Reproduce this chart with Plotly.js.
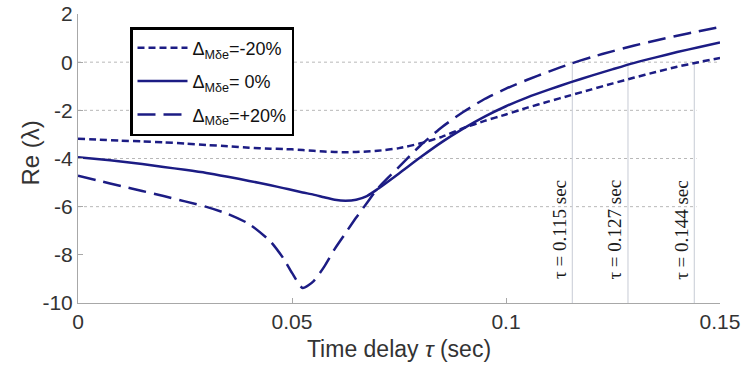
<!DOCTYPE html>
<html>
<head>
<meta charset="utf-8">
<script src="https://cdn.plot.ly/plotly-3.0.1.min.js"></script>
<style>html,body{margin:0;padding:0;background:#fff;}#chart{width:742px;height:370px;}</style>
</head>
<body>
<div id="chart"></div>
<script>
// time delay tau (sec)
const tau = [0, 0.005, 0.01, 0.015, 0.02, 0.025, 0.03, 0.035, 0.04, 0.045, 0.048, 0.05, 0.0525, 0.055, 0.0575, 0.06, 0.0625, 0.065, 0.0675, 0.07, 0.075, 0.08, 0.085, 0.09, 0.095, 0.1, 0.105, 0.11, 0.115, 0.12, 0.125, 0.13, 0.135, 0.14, 0.145, 0.15];

// Re(lambda) for Delta_Mde = -20%
const reMinus20 = [-3.18, -3.22, -3.26, -3.29, -3.33, -3.38, -3.44, -3.49, -3.55, -3.59, -3.61, -3.62, -3.65, -3.68, -3.71, -3.73, -3.74, -3.73, -3.71, -3.68, -3.57, -3.37, -3.1, -2.74, -2.44, -2.17, -1.89, -1.63, -1.38, -1.13, -0.88, -0.64, -0.41, -0.19, 0.0, 0.17];
// Re(lambda) for Delta_Mde = 0%
const reZero = [-3.95, -4.03, -4.12, -4.23, -4.35, -4.47, -4.6, -4.76, -4.93, -5.11, -5.23, -5.31, -5.41, -5.5, -5.61, -5.71, -5.75, -5.71, -5.56, -5.27, -4.62, -3.95, -3.32, -2.76, -2.26, -1.83, -1.46, -1.14, -0.84, -0.56, -0.29, -0.03, 0.2, 0.42, 0.62, 0.82];
// Re(lambda) for Delta_Mde = +20%
const rePlus20 = [-4.72, -4.93, -5.14, -5.35, -5.56, -5.78, -6.01, -6.3, -6.72, -7.45, -8.15, -8.75, -9.38, -9.1, -8.5, -7.75, -7.1, -6.45, -5.85, -5.25, -4.35, -3.46, -2.7, -2.07, -1.53, -1.1, -0.73, -0.39, -0.07, 0.21, 0.46, 0.69, 0.9, 1.1, 1.28, 1.46];

const seriesNames = ['\u0394<sub>M\u03b4e</sub>=-20%', '\u0394<sub>M\u03b4e</sub>= 0%', '\u0394<sub>M\u03b4e</sub>=+20%'];

// stability crossing markers
const crossX = [0.1155, 0.1285, 0.1440];
const crossLabels = ['\u03c4 = 0.115 sec', '\u03c4 = 0.127 sec', '\u03c4 = 0.144 sec'];
const gridVals = [0, -2, -4, -6];
const xTicks = [0, 0.05, 0.1, 0.15];
const xTickText = ['0', '0.05', '0.1', '0.15'];
const yTicks = [2, 0, -2, -4, -6, -8, -10];
const yTickText = ['2', '0', '-2', '-4', '-6', '-8', '-10'];

const navy = '#1c1c84';
const dashes = ['7px,4px', 'solid', '18px,8px'];
const ys = [reMinus20, reZero, rePlus20];

const data = ys.map((y, i) => ({
  x: tau, y: y, type: 'scatter', mode: 'lines',
  name: seriesNames[i], legendgroup: 'g' + i,
  line: {color: navy, width: 2.5, dash: dashes[i], shape: 'spline', smoothing: 0.6}
}));

const shapes = [];
gridVals.forEach(v => shapes.push({
  type: 'line', xref: 'x', yref: 'y', x0: 0, x1: v === 0 ? 0.15 : 0.1445, y0: v, y1: v,
  line: {color: '#b8b8b8', width: 1, dash: 'dot'}, layer: 'below'
}));
crossX.forEach(cx => shapes.push({
  type: 'line', xref: 'x', yref: 'y', x0: cx, x1: cx, y0: 0, y1: -10,
  line: {color: '#d0d4dc', width: 1.2}, layer: 'below'
}));

const annotations = crossX.map((cx, i) => ({
  x: cx, y: -6.95, xref: 'x', yref: 'y', text: crossLabels[i], textangle: -90,
  showarrow: false, xshift: -13,
  font: {family: 'Liberation Serif, Times New Roman, serif', size: 19, color: '#1a1a1a'}
}));
annotations.push({
  x: 0, y: 0.5, xref: 'paper', yref: 'paper', text: 'Re (\u03bb)', textangle: -90,
  showarrow: false, xanchor: 'center', yanchor: 'middle', xshift: -48, yshift: 5,
  font: {size: 24, color: '#333'}
});

const layout = {
  width: 742, height: 370,
  margin: {l: 78, r: 22, t: 14, b: 67},
  paper_bgcolor: '#fff', plot_bgcolor: '#fff',
  font: {family: 'Liberation Sans, Arial, sans-serif', color: '#333'},
  xaxis: {
    range: [0, 0.15], tickvals: xTicks, ticktext: xTickText,
    showgrid: false, zeroline: false, showline: true, linecolor: '#a8a8a8', linewidth: 1,
    ticks: 'inside', ticklen: 5, tickcolor: '#a8a8a8',
    tickfont: {size: 21, color: '#333'},
    title: {text: 'Time delay <i>\u03c4</i> (sec)', font: {size: 23, color: '#333'}, standoff: 8}
  },
  yaxis: {
    range: [-10, 2], tickvals: yTicks, ticktext: yTickText,
    showgrid: false, zeroline: false, showline: true, linecolor: '#a8a8a8', linewidth: 1,
    ticks: 'inside', ticklen: 5, tickcolor: '#a8a8a8',
    tickfont: {size: 21, color: '#333'}
  },
  showlegend: true,
  legend: {
    x: 0.081, y: 0.955, xanchor: 'left', yanchor: 'top',
    bgcolor: '#fff', bordercolor: '#000', borderwidth: 2.5,
    font: {size: 18, color: '#111'}, tracegroupgap: 7, itemwidth: 50
  },
  shapes: shapes,
  annotations: annotations
};

Plotly.newPlot('chart', data, layout, {displayModeBar: false, staticPlot: true});
</script>
</body>
</html>
